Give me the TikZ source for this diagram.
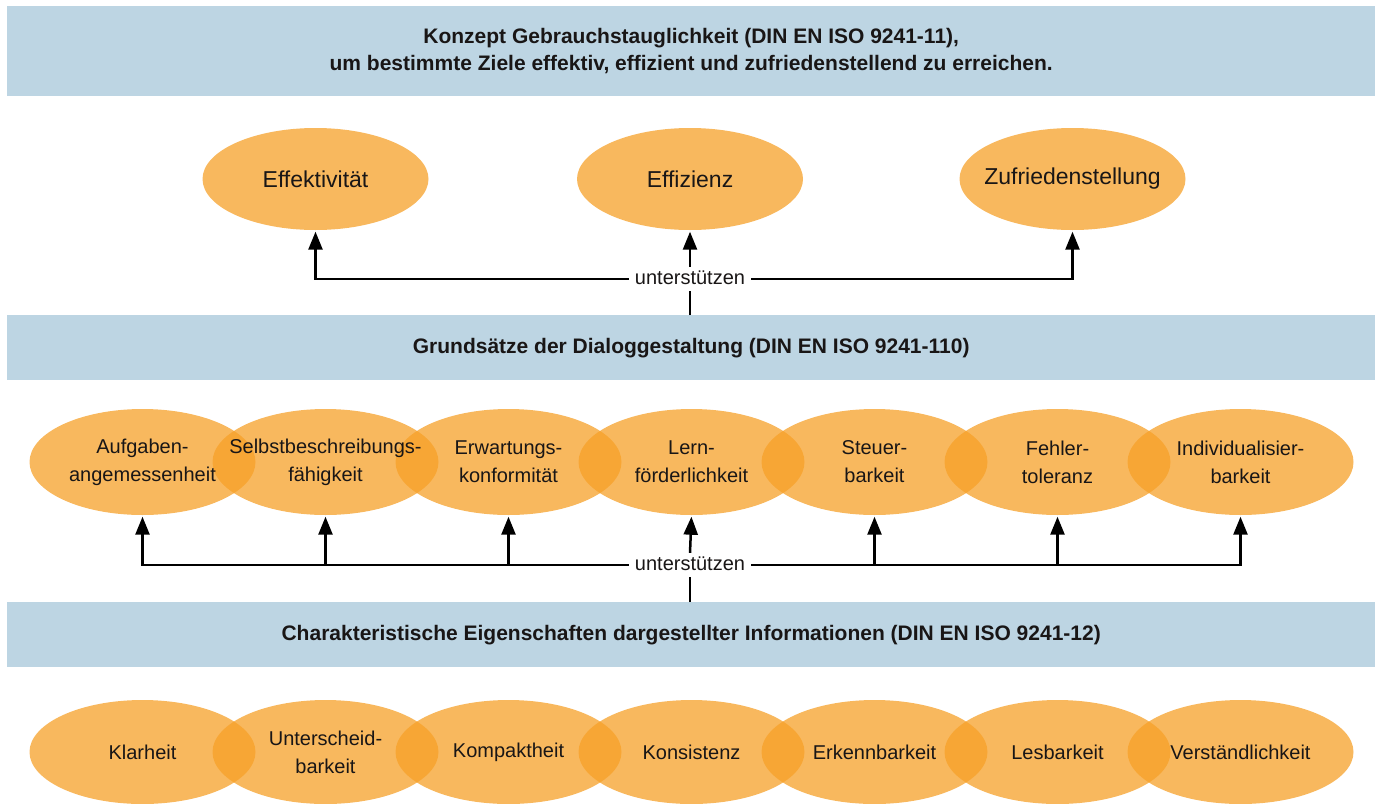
\documentclass[tikz,border=0pt]{standalone}
\usepackage{fontspec}
\setmainfont{Liberation Sans}
\usetikzlibrary{shapes.geometric,arrows.meta}
\definecolor{bandcol}{RGB}{189,213,227}
\definecolor{orng}{RGB}{246,160,40}
\definecolor{txt}{RGB}{25,22,22}
\begin{document}
\begin{tikzpicture}[x=1pt,y=-1pt,
  band/.style={rectangle, fill=bandcol, draw=none, minimum width=1368pt, inner sep=0pt, anchor=north west, text=txt, font=\bfseries\fontsize{21}{27}\selectfont, align=center},
  ell/.style={ellipse, fill=orng, fill opacity=0.75, draw=none, minimum width=226pt, minimum height=106pt, inner sep=0pt},
  etext/.style={align=center, text=txt, font=\fontsize{20}{28}\selectfont, inner sep=0pt},
  ttext/.style={text=txt, font=\fontsize{23}{28}\selectfont, inner sep=0pt},
  lab/.style={fill=white, text=txt, font=\fontsize{20}{24}\selectfont, inner xsep=6pt, inner ysep=3pt, text height=14pt, text depth=4pt},
  conn/.style={line width=2.5pt, draw=black},
  arr/.style={conn, -{Triangle[length=18pt,width=14pt]}, shorten >=1.5pt}]
\useasboundingbox (0,0) rectangle (1375,803);

% bands
\node[band, minimum height=90pt] (b1) at (7,6) {Konzept Gebrauchstauglichkeit (DIN EN ISO 9241-11),\\um bestimmte Ziele effektiv, effizient und zufriedenstellend zu erreichen.};
\node[band, minimum height=65pt] (b2) at (7,315) {Grundsätze der Dialoggestaltung (DIN EN ISO 9241-110)};
\node[band, minimum height=65pt] (b3) at (7,602) {Charakteristische Eigenschaften dargestellter Informationen (DIN EN ISO 9241-12)};

% top ellipses
\node[ell, minimum height=102pt] (e1) at (315.5,179) {};
\node[ell, minimum height=102pt] (e2) at (690,179) {};
\node[ell, minimum height=102pt] (e3) at (1072.5,179) {};
\node[ttext] (te1) at (e1) {Effektivität};
\node[ttext] (te2) at (e2) {Effizienz};
\node[ttext] (te3) at (e3) {Zufriedenstellung};

% middle ellipses
\foreach \i in {1,...,7} {
  \node[ell] (m\i) at ({142.5+183*(\i-1)},462) {};
}
\node[etext] (tm1) at (m1) {Aufgaben-\\angemessenheit};
\node[etext] (tm2) at (m2) {Selbstbeschreibungs-\\fähigkeit};
\node[etext] (tm3) at (m3) {Erwartungs-\\konformität};
\node[etext] (tm4) at (m4) {Lern-\\förderlichkeit};
\node[etext] (tm5) at (m5) {Steuer-\\barkeit};
\node[etext] (tm6) at (m6) {Fehler-\\toleranz};
\node[etext] (tm7) at (m7) {Individualisier-\\barkeit};

% bottom ellipses
\foreach \i in {1,...,7} {
  \node[ell, minimum height=104pt] (n\i) at ({142.5+183*(\i-1)},752) {};
}
\node[etext] (tn1) at (n1) {Klarheit};
\node[etext] (tn2) at (n2) {Unterscheid-\\barkeit};
\node[etext] (tn3) at (n3) {Kompaktheit};
\node[etext] (tn4) at (n4) {Konsistenz};
\node[etext] (tn5) at (n5) {Erkennbarkeit};
\node[etext] (tn6) at (n6) {Lesbarkeit};
\node[etext] (tn7) at (n7) {Verständlichkeit};

% labels
\node[lab] (u1) at (690,279) {unterstützen};
\node[lab] (u2) at (690,565) {unterstützen};

% connectors top
\draw[conn] (b2.north -| u1) -- (u1.south);
\draw[arr] (u1.north) -- (e2.south);
\draw[arr] (u1.west) -| (e1.south);
\draw[arr] (u1.east) -| (e3.south);

% connectors middle
\draw[conn] (b3.north -| u2) -- (u2.south);
\draw[arr] (u2.north) -- (m4.south);
\draw[arr] (u2.west) -| (m1.south);
\draw[arr] (u2.west) -| (m2.south);
\draw[arr] (u2.west) -| (m3.south);
\draw[arr] (u2.east) -| (m5.south);
\draw[arr] (u2.east) -| (m6.south);
\draw[arr] (u2.east) -| (m7.south);
\end{tikzpicture}
\end{document}
